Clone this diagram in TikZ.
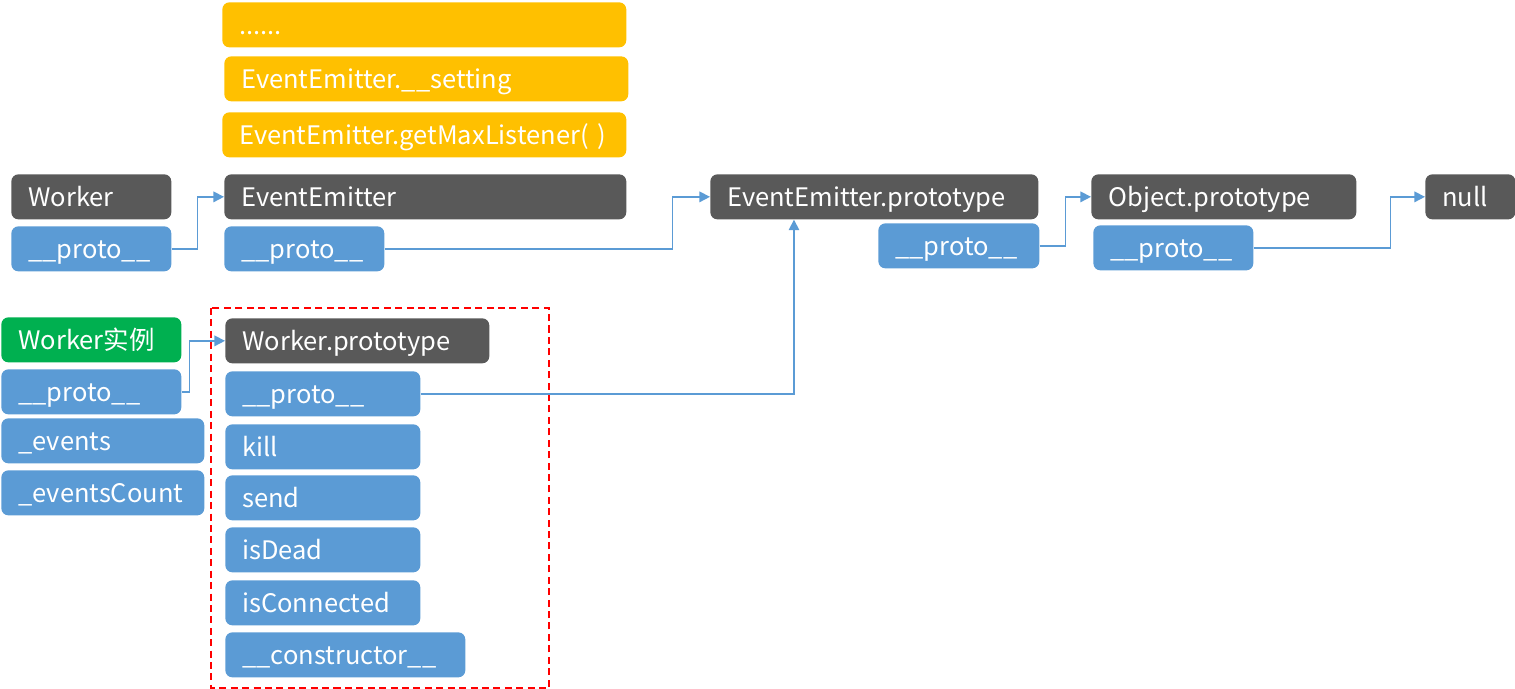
\documentclass[tikz,border=0pt]{standalone}
\usepackage{fontspec}
\setmainfont{Noto Sans CJK SC}
\usepackage{xcolor}
\usetikzlibrary{arrows.meta}

\definecolor{boxgray}{HTML}{595959}
\definecolor{boxblue}{HTML}{5B9BD5}
\definecolor{boxyellow}{HTML}{FFC000}
\definecolor{boxgreen}{HTML}{00B050}

\begin{document}
\begin{tikzpicture}[x=0.02cm, y=-0.02cm,
    box/.style={fill=#1, draw=none, rounded corners=4pt, text=white, anchor=north west,
      align=left, inner xsep=0.34cm, inner ysep=0pt, minimum height=0.9cm,
      text height=0.52cm, text depth=0.14cm,
      font=\fontsize{14.5}{16}\selectfont},
    link/.style={draw=boxblue, line width=0.9pt, -{Triangle[length=6pt,width=6pt]}}]
    \useasboundingbox (0,0) rectangle (1515,689);

    % static members of EventEmitter
    \node[box=boxyellow, text width=7.40cm] (dots) at (222,2) {......};
    \node[box=boxyellow, text width=7.40cm] (setting) at (224,56) {EventEmitter.\_\_setting};
    \node[box=boxyellow, text width=7.40cm] (getmax) at (222,112) {EventEmitter.getMaxListener( )};

    % constructor chain
    \node[box=boxgray, text width=2.52cm] (worker) at (11,174) {Worker};
    \node[box=boxblue, text width=2.52cm] (workerproto) at (11,226) {\_\_proto\_\_};
    \node[box=boxgray, text width=7.36cm] (emitter) at (224,174) {EventEmitter};
    \node[box=boxblue, text width=2.52cm] (emitterproto) at (224,226) {\_\_proto\_\_};
    \node[box=boxgray, text width=5.88cm] (emitterprot) at (710,174) {EventEmitter.prototype};
    \node[box=boxblue, text width=2.54cm] (emitterprotproto) at (878,223) {\_\_proto\_\_};
    \node[box=boxgray, text width=4.62cm] (objprot) at (1091,174) {Object.prototype};
    \node[box=boxblue, text width=2.52cm] (objprotproto) at (1093,225) {\_\_proto\_\_};
    \node[box=boxgray, text width=1.12cm] (null) at (1425,174) {null};

    % the instance
    \node[box=boxgreen, text width=2.92cm] (inst) at (1,317) {Worker实例};
    \node[box=boxblue, text width=2.92cm] (instproto) at (1,369) {\_\_proto\_\_};
    \node[box=boxblue, text width=3.38cm] (events) at (1,418) {\_events};
    \node[box=boxblue, text width=3.38cm] (eventscount) at (1,470) {\_eventsCount};

    % Worker.prototype
    \node[box=boxgray, text width=4.60cm] (workerprot) at (225,318) {Worker.prototype};
    \node[box=boxblue, text width=3.22cm] (workerprotproto) at (225,371) {\_\_proto\_\_};
    \node[box=boxblue, text width=3.22cm] (kill) at (225,424) {kill};
    \node[box=boxblue, text width=3.22cm] (send) at (225,475) {send};
    \node[box=boxblue, text width=3.22cm] (isdead) at (225,527) {isDead};
    \node[box=boxblue, text width=3.22cm] (isconn) at (225,580) {isConnected};
    \node[box=boxblue, text width=4.12cm] (ctor) at (225,632) {\_\_constructor\_\_};
    \draw[red, line width=1.1pt, dash pattern=on 4pt off 2.5pt] (211,308) rectangle (549,688);

    % proto links
    \draw[link] (workerproto.east) -- ++(26,0) |- (emitter.west);
    \draw[link] (emitterproto.east) -- ++(288,0) |- (emitterprot.west);
    \draw[link] (emitterprotproto.east) -- ++(26,0) |- (objprot.west);
    \draw[link] (objprotproto.east) -- ++(137,0) |- (null.west);
    \draw[link] (instproto.east) -- ++(8,0) |- (workerprot.west);
    \draw[link] (workerprotproto.east) -| ([xshift=1.68cm]emitterprot.south west);
\end{tikzpicture}
\end{document}
